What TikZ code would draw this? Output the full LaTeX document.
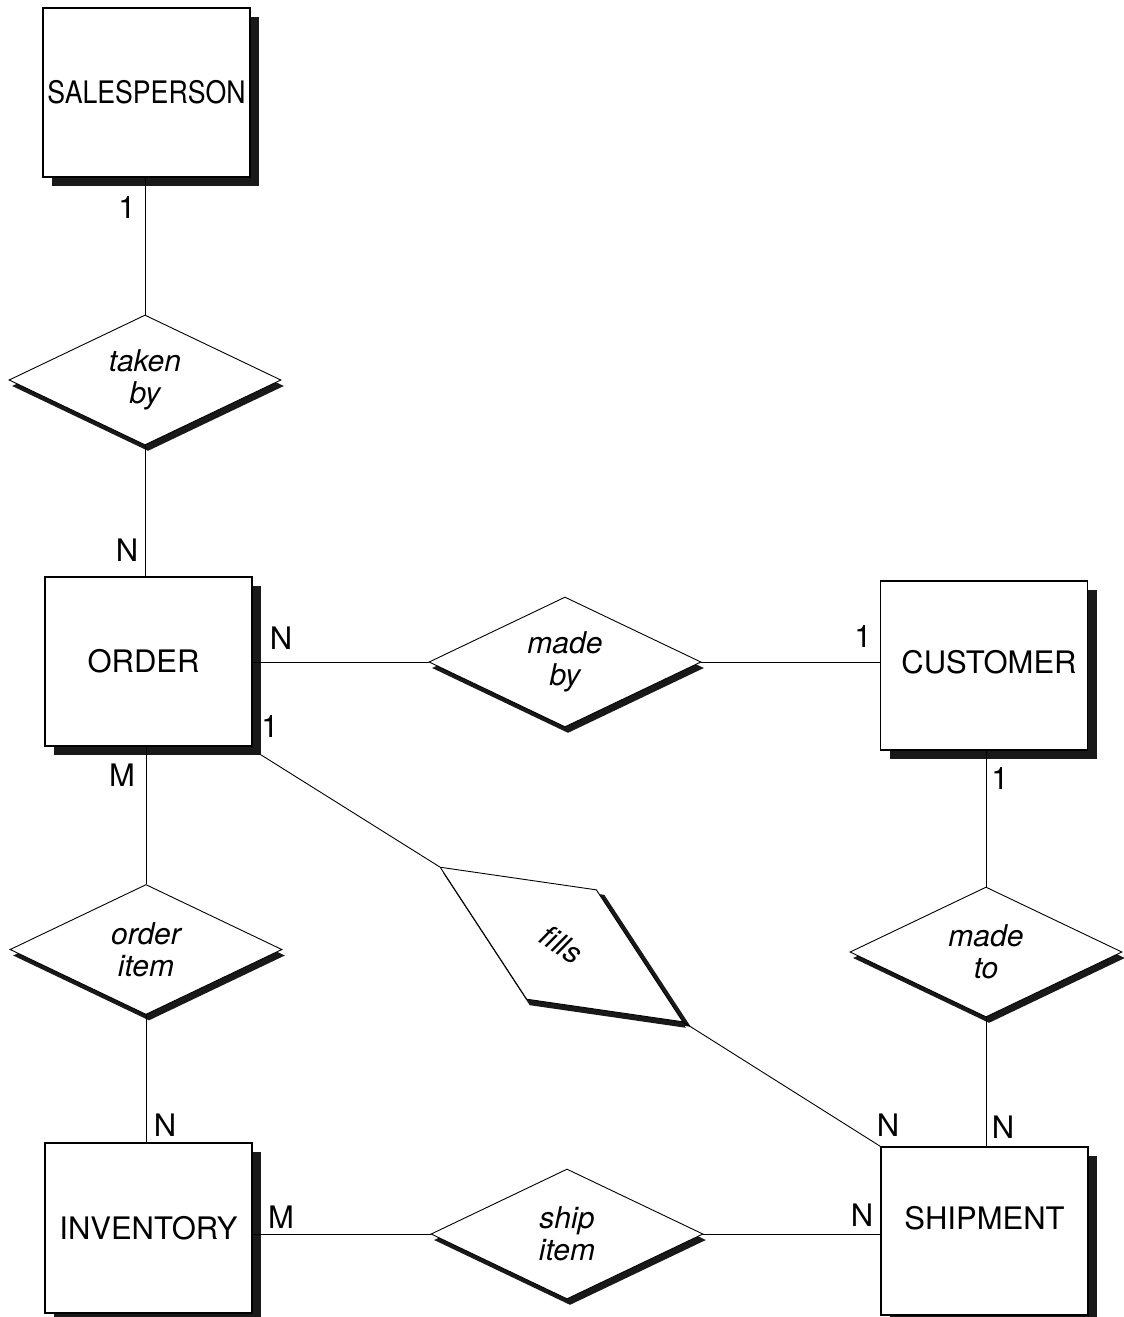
\documentclass[tikz,border=0pt]{standalone}
\usepackage{fontspec}
\usepackage{graphicx}
\setmainfont{TeX Gyre Heros}
\usetikzlibrary{shapes.geometric,shadows}
\begin{document}
\begin{tikzpicture}[x=1pt,y=-1pt,
  every node/.style={font=\fontsize{31}{32}\selectfont, text=black},
  entity/.style={rectangle, draw=black, line width=1.3pt, fill=white,
    minimum width=207pt, minimum height=169pt, inner sep=0pt,
    drop shadow={shadow xshift=9pt, shadow yshift=-9pt, opacity=1, fill=black!90}},
  rel/.style={diamond, draw=black, line width=0.9pt, fill=white,
    minimum width=272pt, minimum height=130pt, inner sep=0pt, aspect=2.1,
    align=center, font=\fontsize{30}{32}\selectfont\itshape,
    drop shadow={shadow xshift=3pt, shadow yshift=-6pt, opacity=1, fill=black!90}},
  card/.style={inner sep=0pt},
  conn/.style={draw=black, line width=0.9pt}]
\useasboundingbox (0,0) rectangle (1124,1317);

% entities
\node[entity] (sp) at (146.5,92.5) {\scalebox{0.86}[1]{SALESPERSON}};
\node[entity] (or) at (148.5,661.5) {\hspace*{-10pt}ORDER};
\node[entity, text depth=7pt] (cu) at (984,665.5) {\hspace*{10pt}CUSTOMER};
\node[entity, minimum height=170pt] (inv) at (148.5,1228) {INVENTORY};
\node[entity, minimum height=168pt, text depth=26pt] (sh) at (984.5,1231) {SHIPMENT};

% relationships
\node[rel] (tb) at (145,380) {taken\\by};
\node[rel] (mb) at (565,662) {made\\by};
\node[rel] (oi) at (146,949.5) {order\\item};
\node[rel] (mt) at (986,952) {made\\to};
\node[rel] (si) at (567,1234) {ship\\item};
\node[rel, minimum width=288pt, rotate=-32.5,
  drop shadow={shadow xshift=8pt, shadow yshift=-5pt, opacity=1, fill=black!90}] (fi) at (561.5,944.5) {fills};

% connectors
\draw[conn] (sp.south -| tb.north) -- (tb.north);
\draw[conn] (tb.south) -- (tb.south |- or.north);
\draw[conn] (or.east |- mb.west) -- (mb.west);
\draw[conn] (mb.east) -- (mb.east -| cu.west);
\draw[conn] (mt.north |- cu.south) -- (mt.north);
\draw[conn] (mt.south) -- (mt.south |- sh.north);
\draw[conn] (oi.north |- or.south) -- (oi.north);
\draw[conn] (oi.south) -- (oi.south |- inv.north);
\draw[conn] (inv.east |- si.west) -- (si.west);
\draw[conn] (si.east) -- (si.east -| sh.west);
\coordinate (orc) at ([shift={(8,8)}]or.south east);
\draw[conn] (orc) -- (fi.west);
\draw[conn] (fi.east) -- (sh.north west);

% cardinalities
\node[card] (c1) at (127,208) {1};
\node[card] (c2) at (127,550) {N};
\node[card] (c3) at (281,638) {N};
\node[card] (c4) at (270,727) {1};
\node[card] (c5) at (863,637) {1};
\node[card] (c6) at (1000,779) {1};
\node[card] (c7) at (122,775) {M};
\node[card] (c8) at (165,1125) {N};
\node[card] (c9) at (281,1217) {M};
\node[card] (c10) at (888,1125) {N};
\node[card] (c11) at (1003,1127) {N};
\node[card] (c12) at (862,1215) {N};
\end{tikzpicture}
\end{document}
